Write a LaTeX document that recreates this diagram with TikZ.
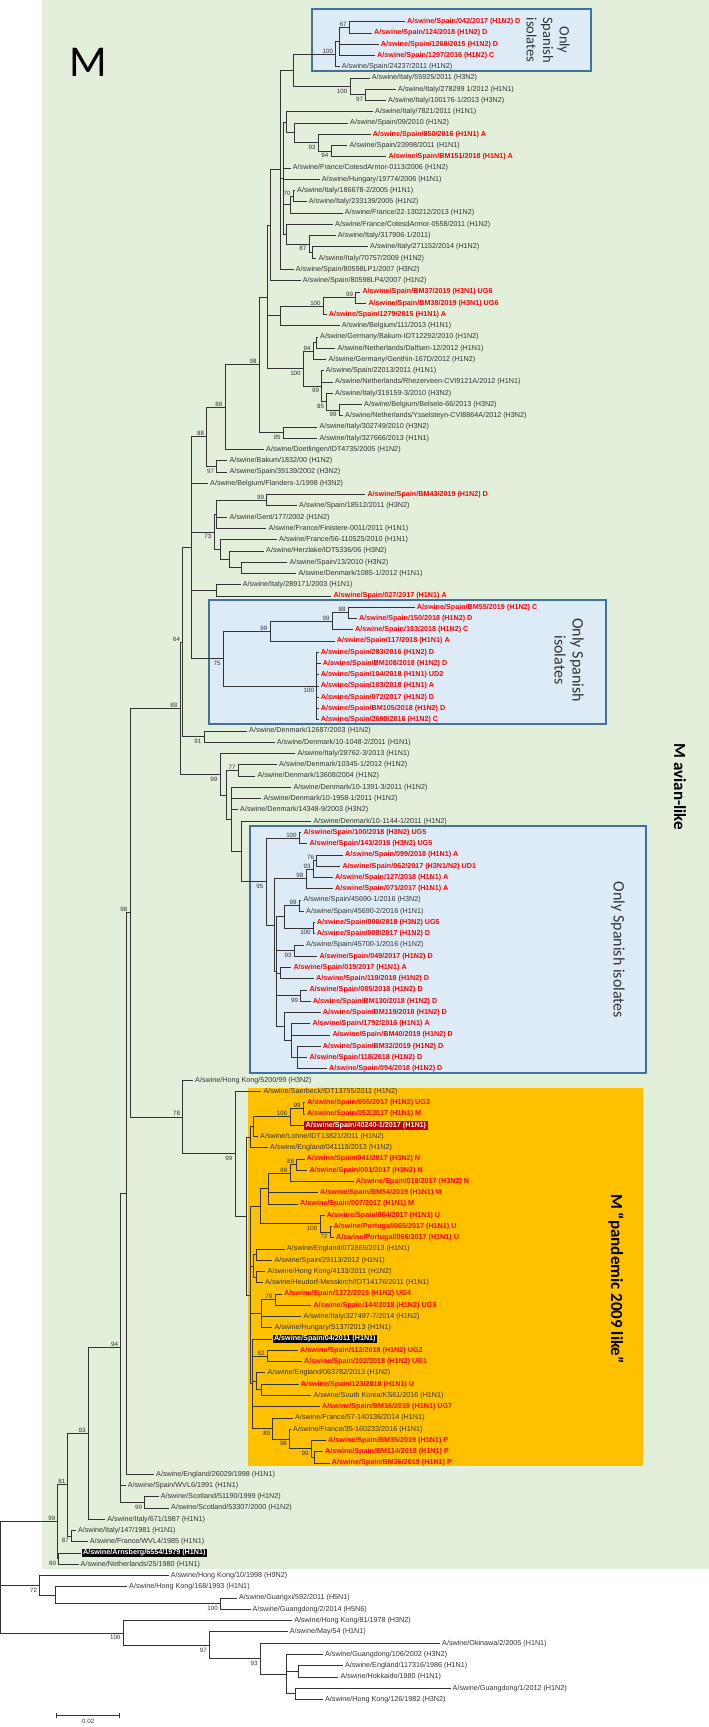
\documentclass[tikz,border=0pt]{standalone}
\usepackage{fontspec}
\setmainfont{Liberation Sans}
\newfontfamily\calib{Carlito}
\usetikzlibrary{calc}
\definecolor{bggreen}{HTML}{E2EFDA}
\definecolor{boxblue}{HTML}{DDEBF7}
\definecolor{boxedge}{HTML}{41719C}
\definecolor{pandorange}{HTML}{FFC000}
\definecolor{leafred}{HTML}{FF0000}
\definecolor{hlred}{HTML}{C00000}
\definecolor{treeline}{HTML}{333333}
\tikzset{
  br/.style={line width=0.85pt, draw=treeline},
  lf/.style={anchor=west, inner xsep=2pt, inner ysep=0.6pt, font=\fontsize{7.2}{8}\selectfont, text=treeline},
  lfred/.style={lf, font=\fontsize{7.2}{8}\selectfont\bfseries, text=leafred},
  lfhk/.style={lf, inner xsep=1.5pt, inner ysep=1pt, fill=black, text=white, font=\fontsize{7.2}{8}\selectfont\bfseries},
  lfhr/.style={lf, inner xsep=1.5pt, inner ysep=1pt, fill=hlred, text=white, font=\fontsize{7.2}{8}\selectfont\bfseries},
  bs/.style={font=\fontsize{6.2}{7}\selectfont, inner sep=0pt, text=treeline},
  spbox/.style={fill=boxblue, draw=boxedge, line width=1.8pt},
  sptext/.style={font=\calib\fontsize{14.5}{16.5}\selectfont, align=center, rotate=-90, text=black!80},
  cladetext/.style={font=\calib\bfseries\fontsize{17}{20}\selectfont, rotate=-90, text=black},
}
\newcommand\leafy[1]{\pgfmathsetmacro\yy{21.7+(#1-1)*11.26}}
\newcommand\lb[3]{\leafy{#1}\node[lf] (l#1) at (#2,\yy) {#3};}
\newcommand\lr[3]{\leafy{#1}\node[lfred] (l#1) at (#2,\yy) {#3};}
\newcommand\lhk[3]{\leafy{#1}\node[lfhk] (l#1) at (#2,\yy) {#3};}
\newcommand\lhr[3]{\leafy{#1}\node[lfhr] (l#1) at (#2,\yy) {#3};}
\newcommand\nd[5]{%
  \path ($(#3)!.5!(#4)$) coordinate (tmpmid);
  \coordinate (#1) at (#2,0 |- tmpmid);
  \foreach \cc in {#5}{\draw[br] (#1) |- (\cc);}
}
\newcommand\ba[2]{\node[bs,anchor=south east] at ([xshift=-2.5pt,yshift=0.7pt]#1) {#2};}
\newcommand\bb[2]{\node[bs,anchor=north east] at ([xshift=-2.5pt,yshift=-2.2pt]#1) {#2};}
\begin{document}
\begin{tikzpicture}[x=1pt,y=-1pt]
\useasboundingbox (0,0) rectangle (709,1727);
\fill[white] (0,0) rectangle (709,1727);
\fill[bggreen] (41.6,0) rectangle (709,1569);
\filldraw[spbox] (312.3,9.3) rectangle (590.7,70.7);
\filldraw[spbox] (209.3,600) rectangle (606,724);
\filldraw[spbox] (250,826) rectangle (646,1072.7);
\fill[pandorange] (248.3,1088.3) rectangle (643,1466);
\node[sptext] at (548,40) {Only\\Spanish\\isolates};
\node[sptext, font=\calib\fontsize{16}{18}\selectfont] at (569,660) {Only Spanish\\isolates};
\node[sptext, font=\calib\fontsize{16}{18}\selectfont] at (618,950) {Only Spanish isolates};
\node[cladetext] at (680,787) {M avian-like};
\node[cladetext] at (616,1279) {M “pandemic 2009 like”};
\node[font=\calib\fontsize{44}{48}\selectfont] at (88,62) {M};
% leaves
\lr{1}{405}{A/swine/Spain/042/2017 (H1N2) D}
\lr{2}{372}{A/swine/Spain/124/2018 (H1N2) D}
\lr{3}{378.7}{A/swine/Spain/1268/2015 (H1N2) D}
\lr{4}{375}{A/swine/Spain/1297/2016 (H1N2) C}
\lb{5}{339.7}{A/swine/Spain/24237/2011 (H1N2)}
\lb{6}{369.7}{A/swine/Italy/55925/2011 (H3N2)}
\lb{7}{396}{A/swine/Italy/278299 1/2012 (H1N1)}
\lb{8}{386}{A/swine/Italy/100176-1/2013 (H3N2)}
\lb{9}{373}{A/swine/Italy/7821/2011 (H1N1)}
\lb{10}{348}{A/swine/Spain/09/2010 (H1N2)}
\lr{11}{370.7}{A/swine/Spain/850/2016 (H1N1) A}
\lb{12}{347.3}{A/swine/Spain/23998/2011 (H1N1)}
\lr{13}{386.3}{A/swine/Spain/BM151/2018 (H1N1) A}
\lb{14}{290.7}{A/swine/France/CotesdArmor-0113/2006 (H1N2)}
\lb{15}{319.7}{A/swine/Hungary/19774/2006 (H1N1)}
\lb{16}{295}{A/swine/Italy/186678-2/2005 (H1N1)}
\lb{17}{306.7}{A/swine/Italy/233139/2005 (H1N2)}
\lb{18}{342.7}{A/swine/France/22-130212/2013 (H1N2)}
\lb{19}{333}{A/swine/France/CotesdArmor-0558/2011 (H1N2)}
\lb{20}{335.7}{A/swine/Italy/317906-1/2011)}
\lb{21}{368}{A/swine/Italy/271152/2014 (H1N2)}
\lb{22}{316.3}{A/swine/Italy/70757/2009 (H1N2)}
\lb{23}{293.7}{A/swine/Spain/80598LP1/2007 (H3N2)}
\lb{24}{300.7}{A/swine/Spain/80598LP4/2007 (H1N2)}
\lr{25}{360.3}{A/swine/Spain/BM37/2019 (H3N1) UG6}
\lr{26}{366.3}{A/swine/Spain/BM38/2019 (H3N1) UG6}
\lr{27}{326.7}{A/swine/Spain/1279/2015 (H1N1) A}
\lb{28}{339.7}{A/swine/Belgium/111/2013 (H1N1)}
\lb{29}{318}{A/swine/Germany/Bakum-IDT12292/2010 (H1N2)}
\lb{30}{335.3}{A/swine/Netherlands/Dalfsen-12/2012 (H1N1)}
\lb{31}{326.3}{A/swine/Germany/Genthin-167D/2012 (H1N2)}
\lb{32}{323.7}{A/swine/Spain/22013/2011 (H1N1)}
\lb{33}{333}{A/swine/Netherlands/Rhezerveen-CVI9121A/2012 (H1N1)}
\lb{34}{333}{A/swine/Italy/319159-3/2010 (H3N2)}
\lb{35}{362}{A/swine/Belgium/Belsele-66/2013 (H3N2)}
\lb{36}{343}{A/swine/Netherlands/Ysselsteyn-CVI8864A/2012 (H3N2)}
\lb{37}{317.3}{A/swine/Italy/302749/2010 (H3N2)}
\lb{38}{317.3}{A/swine/Italy/327666/2013 (H1N1)}
\lb{39}{264}{A/swine/Doetlingen/IDT4735/2005 (H1N2)}
\lb{40}{227.3}{A/swine/Bakum/1832/00 (H1N2)}
\lb{41}{227.3}{A/swine/Spain/39139/2002 (H3N2)}
\lb{42}{208}{A/swine/Belgium/Flanders-1/1998 (H3N2)}
\lr{43}{365.3}{A/swine/Spain/BM43/2019 (H1N2) D}
\lb{44}{297}{A/swine/Spain/18512/2011 (H3N2)}
\lb{45}{227.3}{A/swine/Gent/177/2002 (H1N2)}
\lb{46}{266.3}{A/swine/France/Finistere-0011/2011 (H1N1)}
\lb{47}{277}{A/swine/France/56-110525/2010 (H1N1)}
\lb{48}{264}{A/swine/Herzlake/IDT5336/06 (H3N2)}
\lb{49}{287.3}{A/swine/Spain/13/2010 (H3N2)}
\lb{50}{296.3}{A/swine/Denmark/1085-1/2012 (H1N1)}
\lb{51}{240.7}{A/swine/Italy/289171/2003 (H1N1)}
\lr{52}{331.3}{A/swine/Spain/027/2017 (H1N1) A}
\lr{53}{414.7}{A/swine/Spain/BM55/2019 (H1N2) C}
\lr{54}{357}{A/swine/Spain/150/2018 (H1N2) D}
\lr{55}{353}{A/swine/Spain/153/2018 (H1N2) C}
\lr{56}{334.7}{A/swine/Spain/117/2018 (H1N1) A}
\lr{57}{318.7}{A/swine/Spain/283/2016 (H1N2) D}
\lr{58}{320.7}{A/swine/Spain/BM108/2018 (H1N2) D}
\lr{59}{318.7}{A/swine/Spain/104/2018 (H1N1) UD2}
\lr{60}{318.7}{A/swine/Spain/103/2018 (H1N1) A}
\lr{61}{318.7}{A/swine/Spain/072/2017 (H1N2) D}
\lr{62}{318.7}{A/swine/Spain/BM105/2018 (H1N2) D}
\lr{63}{318.7}{A/swine/Spain/2698/2016 (H1N2) C}
\lb{64}{247}{A/swine/Denmark/12687/2003 (H1N2)}
\lb{65}{274.7}{A/swine/Denmark/10-1048-2/2011 (H1N1)}
\lb{66}{295.3}{A/swine/Italy/28762-3/2013 (H1N1)}
\lb{67}{277}{A/swine/Denmark/10345-1/2012 (H1N2)}
\lb{68}{255.3}{A/swine/Denmark/13608/2004 (H1N2)}
\lb{69}{291.3}{A/swine/Denmark/10-1391-3/2011 (H1N2)}
\lb{70}{261.3}{A/swine/Denmark/10-1958-1/2011 (H1N2)}
\lb{71}{238}{A/swine/Denmark/14348-9/2003 (H3N2)}
\lb{72}{311.3}{A/swine/Denmark/10-1144-1/2011 (H1N2)}
\lr{73}{301.3}{A/swine/Spain/100/2018 (H3N2) UG5}
\lr{74}{307.3}{A/swine/Spain/143/2018 (H3N2) UG5}
\lr{75}{343}{A/swine/Spain/099/2018 (H1N1) A}
\lr{76}{340.3}{A/swine/Spain/062/2017 (H3N1/N2) UD1}
\lr{77}{333}{A/swine/Spain/127/2018 (H1N1) A}
\lr{78}{333}{A/swine/Spain/071/2017 (H1N1) A}
\lb{79}{301.3}{A/swine/Spain/45690-1/2016 (H3N2)}
\lb{80}{304}{A/swine/Spain/45690-2/2016 (H1N1)}
\lr{81}{314.7}{A/swine/Spain/090/2018 (H3N2) UG5}
\lr{82}{314.7}{A/swine/Spain/008/2017 (H1N2) D}
\lb{83}{304}{A/swine/Spain/45700-1/2016 (H1N2)}
\lr{84}{317.3}{A/swine/Spain/049/2017 (H1N2) D}
\lr{85}{291.3}{A/swine/Spain/019/2017 (H1N1) A}
\lr{86}{314}{A/swine/Spain/119/2018 (H1N2) D}
\lr{87}{307.3}{A/swine/Spain/085/2018 (H1N2) D}
\lr{88}{310.7}{A/swine/Spain/BM130/2018 (H1N2) D}
\lr{89}{320.7}{A/swine/Spain/BM119/2018 (H1N2) D}
\lr{90}{310.3}{A/swine/Spain/1792/2016 (H1N1) A}
\lr{91}{330.3}{A/swine/Spain/BM40/2019 (H1N2) D}
\lr{92}{320.7}{A/swine/Spain/BM32/2019 (H1N2) D}
\lr{93}{307.3}{A/swine/Spain/118/2018 (H1N2) D}
\lr{94}{327}{A/swine/Spain/094/2018 (H1N2) D}
\lb{95}{193}{A/swine/Hong Kong/5200/99 (H3N2)}
\lb{96}{261.3}{A/swine/Saerbeck/IDT13755/2011 (H1N2)}
\lr{97}{305}{A/swine/Spain/055/2017 (H1N2) UG3}
\lr{98}{305}{A/swine/Spain/052/2017 (H1N1) M}
\lhr{99}{304}{A/swine/Spain/40240-1/2017 (H1N1)}
\lb{100}{258}{A/swine/Lohne/IDT13821/2011 (H1N2)}
\lb{101}{268}{A/swine/England/041118/2013 (H1N2)}
\lr{102}{304.7}{A/swine/Spain/041/2017 (H3N2) N}
\lr{103}{307.3}{A/swine/Spain/001/2017 (H3N2) N}
\lr{104}{353.7}{A/swine/Spain/018/2017 (H3N2) N}
\lr{105}{318}{A/swine/Spain/BM54/2019 (H1N1) M}
\lr{106}{298}{A/swine/Spain/007/2017 (H1N1) M}
\lr{107}{324.7}{A/swine/Spain/064/2017 (H1N1) U}
\lr{108}{331.5}{A/swine/Portugal/065/2017 (H1N1) U}
\lr{109}{334}{A/swine/Portugal/066/2017 (H1N1) U}
\lb{110}{284.7}{A/swine/England/072865/2013 (H1N1)}
\lb{111}{272.3}{A/swine/Spain/29113/2012 (H1N1)}
\lb{112}{265.3}{A/swine/Hong Kong/4133/2011 (H1N2)}
\lb{113}{263}{A/swine/Heudorf-Messkirch/IDT14176/2011 (H1N1)}
\lr{114}{282}{A/swine/Spain/1372/2015 (H1N2) UG4}
\lr{115}{311.3}{A/swine/Spain/144/2018 (H1N2) UG3}
\lb{116}{301.3}{A/swine/Italy/327497-7/2014 (H1N2)}
\lb{117}{272.3}{A/swine/Hungary/S137/2013 (H1N1)}
\lhk{118}{272.3}{A/swine/Spain/04/2011 (H1N1)}
\lr{119}{298}{A/swine/Spain/112/2018 (H1N2) UG2}
\lr{120}{302}{A/swine/Spain/102/2018 (H1N2) UG1}
\lb{121}{265.3}{A/swine/England/063782/2013 (H1N2)}
\lr{122}{298.7}{A/swine/Spain/123/2018 (H1N1) U}
\lb{123}{311.3}{A/swine/South Korea/KS61/2016 (H1N1)}
\lr{124}{320}{A/swine/Spain/BM16/2019 (H1N1) UG7}
\lb{125}{293}{A/swine/France/57-140136/2014 (H1N1)}
\lb{126}{291}{A/swine/France/35-160233/2016 (H1N1)}
\lr{127}{326}{A/swine/Spain/BM35/2019 (H1N1) P}
\lr{128}{323}{A/swine/Spain/BM114/2018 (H1N1) P}
\lr{129}{329.7}{A/swine/Spain/BM36/2019 (H1N1) P}
\lb{130}{154}{A/swine/England/26029/1998 (H1N1)}
\lb{131}{125.6}{A/swine/Spain/WVL6/1991 (H1N1)}
\lb{132}{158.6}{A/swine/Scotland/51190/1999 (H1N2)}
\lb{133}{169}{A/swine/Scotland/53307/2000 (H1N2)}
\lb{134}{105.2}{A/swine/Italy/671/1987 (H1N1)}
\lb{135}{75.8}{A/swine/Italy/147/1981 (H1N1)}
\lb{136}{87.6}{A/swine/France/WVL4/1985 (H1N1)}
\lhk{137}{81.4}{A/swine/Arnsberg/6554/1979 (H1N1)}
\lb{138}{78.5}{A/swine/Netherlands/25/1980 (H1N1)}
\lb{139}{168.6}{A/swine/Hong Kong/10/1998 (H9N2)}
\lb{140}{127}{A/swine/Hong Kong/168/1993 (H1N1)}
\lb{141}{236.9}{A/swine/Guangxi/592/2011 (H5N1)}
\lb{142}{250.5}{A/swine/Guangdong/2/2014 (H5N6)}
\lb{143}{292.1}{A/swine/Hong Kong/81/1978 (H3N2)}
\lb{144}{287.6}{A/swine/May/54 (H1N1)}
\lb{145}{440}{A/swine/Okinawa/2/2005 (H1N1)}
\lb{146}{322.9}{A/swine/Guangdong/106/2002 (H3N2)}
\lb{147}{342.8}{A/swine/England/117316/1986 (H1N1)}
\lb{148}{338.3}{A/swine/Hokkaido/1980 (H1N1)}
\lb{149}{450.5}{A/swine/Guangdong/1/2012 (H1N2)}
\lb{150}{322.9}{A/swine/Hong Kong/126/1982 (H3N2)}
% internal nodes
\nd{a1}{349.3}{l1}{l2}{l1,l2}
\nd{a2}{339.3}{a1}{l4}{a1,l3,l4}
\nd{a3}{335.7}{a2}{l5}{a2,l5}
\nd{a4}{365.7}{l7}{l8}{l7,l8}
\nd{a5}{350}{l6}{a4}{l6,a4}
\nd{a6}{293.3}{a3}{a5}{a3,a5}
\nd{a7}{331}{l12}{l13}{l12,l13}
\nd{a8}{318.3}{l11}{a7}{l11,a7}
\nd{a9}{294.3}{l10}{a8}{l10,a8}
\nd{a10}{286}{l9}{a9}{l9,a9}
\nd{a11}{293.3}{l16}{l17}{l16,l17}
\nd{a12}{290}{a11}{l18}{a11,l18}
\nd{a13}{312.7}{l21}{l22}{l21,l22}
\nd{a14}{309}{l20}{a13}{l20,a13}
\nd{a15}{286}{l19}{a14}{l19,a14}
\nd{a16}{283.3}{a10}{a15}{a10,l14,l15,a12,a15}
\nd{a17}{280}{a6}{l23}{a6,a16,l23}
\nd{a18}{270}{a17}{l24}{a17,l24}
\nd{b1}{355.7}{l25}{l26}{l25,l26}
\nd{b2}{323.3}{b1}{l27}{b1,l27}
\nd{b3}{280}{b2}{l28}{b2,l28}
\nd{b4}{316}{l29}{l30}{l29,l30}
\nd{b5}{313.3}{b4}{l31}{b4,l31}
\nd{b6}{339.3}{l35}{l36}{l35,l36}
\nd{b7}{326.7}{l34}{b6}{l34,b6}
\nd{b8}{321.7}{l32}{b7}{l32,l33,b7}
\nd{b9}{303.3}{b5}{b8}{b5,b8}
\nd{b10}{267.3}{a18}{b9}{a18,b3,b9}
\nd{b11}{283.3}{l37}{l38}{l37,l38}
\nd{b12}{259.3}{b10}{b11}{b10,b11}
\nd{b13}{225}{b12}{l39}{b12,l39}
\nd{b14}{216.7}{l40}{l41}{l40,l41}
\nd{b15}{206.7}{b13}{b14}{b13,b14}
\nd{c1}{266.7}{l43}{l44}{l43,l44}
\nd{c2}{216.7}{c1}{l46}{c1,l45,l46}
\nd{c3}{241.7}{l49}{l50}{l49,l50}
\nd{c4}{229.3}{l48}{c3}{l48,c3}
\nd{c5}{220}{l47}{c4}{l47,c4}
\nd{c6}{214}{c2}{c5}{c2,c5}
\nd{c7}{216.7}{l51}{l52}{l51,l52}
\nd{d1}{348.3}{l53}{l54}{l53,l54}
\nd{d2}{332.3}{d1}{l55}{d1,l55}
\nd{d3}{270}{d2}{l56}{d2,l56}
\nd{d4}{316.7}{l57}{l63}{l57,l58,l59,l60,l61,l62,l63}
\nd{d5}{223.3}{d3}{d4}{d3,d4}
\nd{c8}{191.7}{b15}{d5}{b15,l42,c6,c7,d5}
\nd{e1}{204}{l64}{l65}{l64,l65}
\nd{e2}{238.3}{l67}{l68}{l67,l68}
\nd{f1}{299.3}{l73}{l74}{l73,l74}
\nd{f2}{316.7}{l75}{l76}{l75,l76}
\nd{f3}{313.3}{f2}{l77}{f2,l77}
\nd{f4}{306}{f3}{l78}{f3,l78}
\nd{f5}{299.3}{l79}{l80}{l79,l80}
\nd{f6}{313.3}{l81}{l82}{l81,l82}
\nd{f7}{284.3}{f5}{f6}{f5,f6}
\nd{f8}{294.3}{l83}{l84}{l83,l84}
\nd{f9}{280}{l85}{l86}{l85,l86}
\nd{f10}{300.7}{l87}{l88}{l87,l88}
\nd{f11}{297.3}{l92}{l94}{l92,l93,l94}
\nd{f12}{291}{l90}{f11}{l90,l91,f11}
\nd{f13}{284.3}{l89}{f12}{l89,f12}
\nd{f14}{276.7}{f7}{f13}{f7,f8,f9,f10,f13}
\nd{f15}{274.3}{f4}{f14}{f4,f14}
\nd{f16}{266}{f1}{f15}{f1,f15}
\nd{e3}{241.7}{l72}{f16}{l72,f16}
\nd{e4}{231.7}{l69}{e3}{l69,l70,l71,e3}
\nd{e5}{226.7}{e2}{e4}{e2,e4}
\nd{e6}{220}{l66}{e5}{l66,e5}
\nd{p1}{303.3}{l97}{l98}{l97,l98}
\nd{p2}{290}{p1}{l99}{p1,l99}
\nd{p3}{253.3}{p2}{l100}{p2,l100}
\nd{p4}{250.7}{p3}{l101}{p3,l101}
\nd{p5}{296.7}{l102}{l103}{l102,l103}
\nd{p6}{290}{p5}{l104}{p5,l104}
\nd{p7}{268.3}{p6}{l106}{p6,l105,l106}
\nd{p8}{330}{l108}{l109}{l108,l109}
\nd{p9}{320}{l107}{p8}{l107,p8}
\nd{p10}{260.7}{p7}{p9}{p7,p9}
\nd{p11}{256}{l110}{l111}{l110,l111}
\nd{p12}{256}{l112}{l113}{l112,l113}
\nd{p13}{253.3}{p11}{p12}{p11,p12}
\nd{p14}{275}{l114}{l115}{l114,l115}
\nd{p15}{261.7}{p14}{l117}{p14,l116,l117}
\nd{p16}{267.3}{l119}{l120}{l119,l120}
\nd{p17}{261.7}{l122}{l123}{l122,l123}
\nd{p18}{256}{l121}{p17}{l121,p17}
\nd{p19}{314.5}{l128}{l129}{l128,l129}
\nd{p20}{311.3}{l127}{p19}{l127,p19}
\nd{p21}{289.6}{l126}{p20}{l126,p20}
\nd{p22}{272.9}{l125}{p21}{l125,p21}
\nd{p23}{252.7}{l118}{p22}{l118,p16,p18,l124,p22}
\nd{p26}{250}{p10}{p23}{p10,p13,p15,p23}
\nd{p24}{246.7}{p4}{p26}{p4,p26}
\nd{p25}{235}{l96}{p24}{l96,p24}
\nd{g1}{182.7}{l95}{p25}{l95,p25}
\nd{t1}{182.7}{c8}{e1}{c8,e1}
\nd{t2}{180}{t1}{e6}{t1,e6}
\nd{t3}{130}{t2}{g1}{t2,g1}
\nd{t4}{126.7}{t3}{l130}{t3,l130}
\nd{h1}{144.8}{l132}{l133}{l132,l133}
\nd{t5}{120.8}{t4}{h1}{t4,l131,h1}
\nd{t6}{88.2}{t5}{l134}{t5,l134}
\nd{h3}{71.5}{l135}{l136}{l135,l136}
\nd{t7}{67.9}{t6}{h3}{t6,h3}
\nd{h4}{58.8}{l137}{l138}{l137,l138}
\nd{t8}{57.9}{t7}{h4}{t7,h4}
\nd{o1}{220.4}{l141}{l142}{l141,l142}
\nd{o2}{55.7}{l140}{o1}{l140,o1}
\nd{o3}{39.8}{l139}{o2}{l139,o2}
\nd{o4}{298.6}{l147}{l148}{l147,l148}
\nd{o5}{295}{l149}{l150}{l149,l150}
\nd{o6}{286}{l146}{o5}{l146,o4,o5}
\nd{o7}{260.2}{l145}{o6}{l145,o6}
\nd{o8}{209.5}{l144}{o7}{l144,o7}
\nd{o9}{123.1}{l143}{o8}{l143,o8}
\nd{root}{0.8}{t8}{o9}{t8,o3,o9}
% bootstrap
\ba{a1}{67}\ba{a3}{100}\bb{a5}{100}\bb{a4}{97}\bb{a7}{94}\bb{a8}{93}\ba{a11}{70}\bb{a14}{87}
\ba{b1}{99}\ba{b2}{100}\ba{b5}{94}\bb{b9}{100}\bb{b8}{99}\bb{b7}{85}\bb{b6}{99}\ba{b12}{98}\ba{b13}{88}\bb{b11}{95}\bb{b14}{97}\ba{b15}{88}
\ba{c1}{99}\bb{c6}{73}\ba{d1}{88}\ba{d2}{99}\ba{d3}{99}\bb{d4}{100}\bb{d5}{75}
\bb{e1}{91}\ba{e2}{77}\bb{e6}{99}
\ba{f1}{100}\ba{f2}{76}\ba{f3}{93}\ba{f4}{98}\bb{f16}{95}\ba{f5}{99}\bb{f6}{100}\bb{f8}{93}\bb{f10}{99}
\ba{p1}{99}\ba{p2}{100}\ba{p5}{88}\ba{p6}{89}\bb{p8}{72}\bb{p9}{100}\ba{p14}{79}\ba{p16}{62}\bb{p22}{89}\bb{p21}{98}\bb{p20}{99}\bb{p25}{99}
\ba{g1}{78}\ba{t1}{64}\ba{t2}{88}\ba{t3}{98}\ba{t5}{94}
\bb{h1}{99}\ba{t6}{93}\bb{h3}{87}\ba{t7}{81}\bb{h4}{60}\ba{t8}{99}
\bb{o1}{100}\bb{o3}{72}\bb{o9}{100}\bb{o8}{97}\bb{o7}{93}
% scale bar
\coordinate (sb1) at (56.6,1715);
\coordinate (sb2) at (119.9,1715);
\draw[br] (sb1) -- (sb2);
\draw[br] ([yshift=2.5pt]sb1) -- ([yshift=-2.5pt]sb1);
\draw[br] ([yshift=2.5pt]sb2) -- ([yshift=-2.5pt]sb2);
\node[bs, anchor=north] at ([yshift=-4pt]$(sb1)!.5!(sb2)$) {0.02};
\end{tikzpicture}
\end{document}
